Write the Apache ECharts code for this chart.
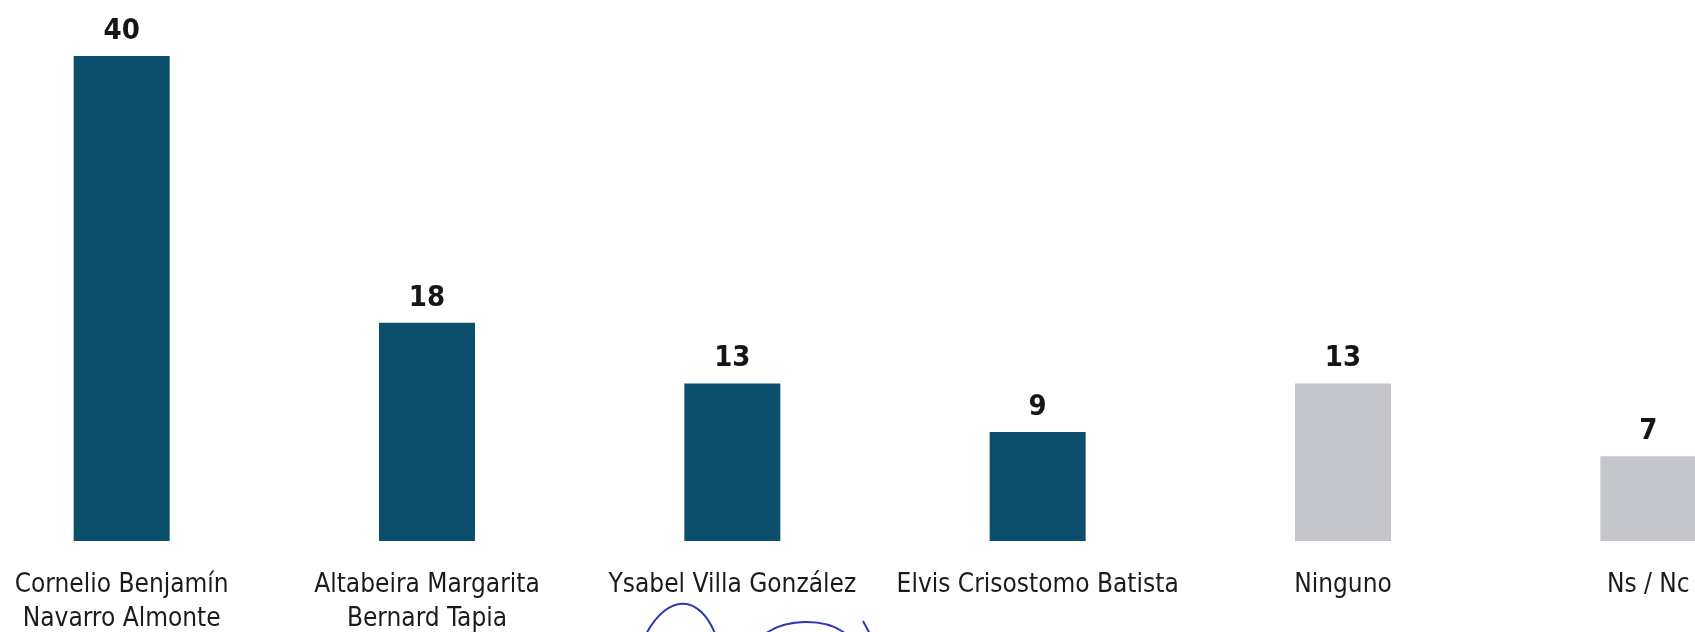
<!DOCTYPE html>
<html>
<head>
<meta charset="utf-8">
<script src="https://cdn.jsdelivr.net/npm/echarts@6/dist/echarts.min.js"></script>
<style>
  html, body { margin: 0; padding: 0; background: #fff; overflow: hidden; }
  /* the scanned chart is cropped on both sides, so the canvas is wider than the page */
  #chart { position: absolute; left: -31px; top: 0; width: 1832px; height: 632px; }
</style>
</head>
<body>
<div id="chart"></div>
<script>
  var candidates = [
    'Cornelio Benjamín\nNavarro Almonte',
    'Altabeira Margarita\nBernard Tapia',
    'Ysabel Villa González',
    'Elvis Crisostomo Batista',
    'Ninguno',
    'Ns / Nc'
  ]
  var votes = [40, 18, 13, 9, 13, 7]
  var isCandidate = [true, true, true, true, false, false]

  var fontNarrow = '"Liberation Sans Narrow", "DejaVu Sans Condensed", "Roboto", sans-serif'
  var chart = echarts.init(document.getElementById('chart'))
  var ox = 31 // page x -> canvas x

  var data = votes.map(function (v, i) {
    return {
      value: v,
      itemStyle: { color: isCandidate[i] ? '#0c4f6c' : '#c4c6cc' }
    }
  })

  var pen = { stroke: '#2f37b3', lineWidth: 2, fill: null }

  var option = {
    backgroundColor: '#ffffff',
    animation: false,
    grid: { left: 0, right: 0, top: 56, bottom: 91, outerBoundsMode: 'none' },
    xAxis: {
      type: 'category',
      data: candidates,
      axisLine: { show: false },
      axisTick: { show: false },
      axisLabel: {
        interval: 0,
        margin: 27,
        color: '#1b1b1b',
        fontFamily: fontNarrow,
        fontSize: 26,
        lineHeight: 34
      }
    },
    yAxis: {
      type: 'value',
      min: 0,
      max: 40,
      show: false
    },
    series: [{
      type: 'bar',
      barWidth: 96,
      data: data,
      label: {
        show: true,
        position: 'top',
        distance: 10,
        color: '#161616',
        fontFamily: fontNarrow,
        fontWeight: 'bold',
        fontSize: 29
      }
    }],
    // pen scribble from the scanned page
    graphic: [
      {
        type: 'bezierCurve',
        silent: true,
        shape: { x1: 645 + ox, y1: 636, x2: 716 + ox, y2: 636, cpx1: 668 + ox, cpy1: 592, cpx2: 700 + ox, cpy2: 594 },
        style: pen
      },
      {
        type: 'bezierCurve',
        silent: true,
        shape: { x1: 765 + ox, y1: 634, x2: 846 + ox, y2: 634, cpx1: 785 + ox, cpy1: 619, cpx2: 825 + ox, cpy2: 617 },
        style: pen
      },
      {
        type: 'line',
        silent: true,
        shape: { x1: 863 + ox, y1: 621, x2: 870 + ox, y2: 634 },
        style: pen
      }
    ]
  }
  chart.setOption(option)
</script>
</body>
</html>
